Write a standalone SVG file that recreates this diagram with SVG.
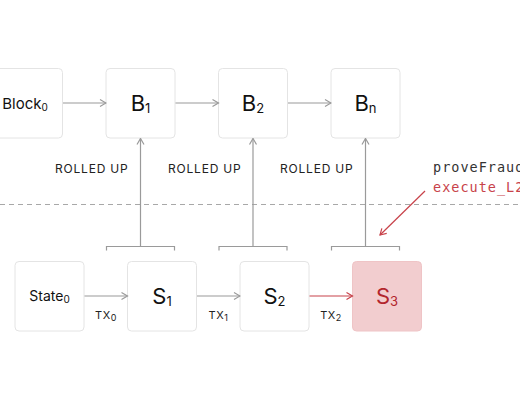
<svg xmlns="http://www.w3.org/2000/svg" width="520" height="400" viewBox="0 0 520 400">
<defs>
<style>
.box{fill:#fff;stroke:#e4e4e4;stroke-width:1}
.hot{fill:#f2cdcf;stroke:#efc4c6;stroke-width:1}
.big{font-family:Inter,"Liberation Sans",sans-serif;font-size:22px;fill:#111;text-anchor:middle}
.mid{font-family:Inter,"Liberation Sans",sans-serif;font-size:15px;fill:#111;text-anchor:middle}
.sub{font-size:13px}
.sm{font-size:10px}
.lbl{font-family:Inter,"Liberation Sans",sans-serif;font-size:12px;fill:#222;letter-spacing:0.8px}
.tx{font-family:Inter,"Liberation Sans",sans-serif;font-size:11px;fill:#222;text-anchor:middle;letter-spacing:0.5px}
.code{font-family:"DejaVu Sans Mono",monospace;font-size:13.5px;letter-spacing:1px}
.ln{stroke:#9a9a9a;stroke-width:1.2;fill:none}
.red{stroke:#c8424a;stroke-width:1.2;fill:none}
</style>
<marker id="ag" viewBox="0 0 10 10" refX="9" refY="5" markerWidth="10" markerHeight="10" markerUnits="userSpaceOnUse" orient="auto">
<path d="M3,1.5 L9,5 L3,8.5" fill="none" stroke="#9a9a9a" stroke-width="1.2"/>
</marker>
<marker id="ar" viewBox="0 0 10 10" refX="9" refY="5" markerWidth="10" markerHeight="10" markerUnits="userSpaceOnUse" orient="auto">
<path d="M3,1.5 L9,5 L3,8.5" fill="none" stroke="#c8424a" stroke-width="1.2"/>
</marker>
</defs>

<line x1="0" y1="204.5" x2="520" y2="204.5" stroke="#a8a8a8" stroke-width="1" stroke-dasharray="5 4"/>

<g id="block0"><rect class="box" x="-6.5" y="68.5" width="69" height="69.5" rx="4"/><text class="mid" x="25" y="108.5">Block<tspan class="sm" dy="2">0</tspan></text></g>
<g id="b1"><rect class="box" x="106" y="68.5" width="69" height="69.5" rx="4"/><text class="big" x="140.5" y="111">B<tspan class="sub" dy="2">1</tspan></text></g>
<g id="b2"><rect class="box" x="218.5" y="68.5" width="69" height="69.5" rx="4"/><text class="big" x="253" y="111">B<tspan class="sub" dy="2">2</tspan></text></g>
<g id="bn"><rect class="box" x="331" y="68.5" width="69" height="69.5" rx="4"/><text class="big" x="365.5" y="111">B<tspan class="sub" dy="2">n</tspan></text></g>

<g id="state0"><rect class="box" x="15" y="261.5" width="69" height="69.5" rx="4"/><text class="mid" x="49.5" y="301" style="font-size:14px">State<tspan class="sm" dy="2">0</tspan></text></g>
<g id="s1"><rect class="box" x="127.5" y="261.5" width="69" height="69.5" rx="4"/><text class="big" x="162" y="304">S<tspan class="sub" dy="2">1</tspan></text></g>
<g id="s2"><rect class="box" x="240" y="261.5" width="69" height="69.5" rx="4"/><text class="big" x="274.5" y="304">S<tspan class="sub" dy="2">2</tspan></text></g>
<g id="s3"><rect class="hot" x="352.5" y="261.5" width="69" height="69.5" rx="4"/><text class="big" x="387" y="304" style="fill:#b3262d">S<tspan class="sub" dy="2">3</tspan></text></g>

<g id="connectors">
<line class="ln" x1="63" y1="103" x2="106" y2="103" marker-end="url(#ag)"/>
<line class="ln" x1="175.5" y1="103" x2="218.5" y2="103" marker-end="url(#ag)"/>
<line class="ln" x1="288" y1="103" x2="331" y2="103" marker-end="url(#ag)"/>
<line class="ln" x1="84.5" y1="296" x2="127.5" y2="296" marker-end="url(#ag)"/>
<line class="ln" x1="197" y1="296" x2="240" y2="296" marker-end="url(#ag)"/>
<line class="red" x1="309.5" y1="296" x2="352.5" y2="296" marker-end="url(#ar)"/>
<line class="ln" x1="140.5" y1="246.5" x2="140.5" y2="138.5" marker-end="url(#ag)"/>
<line class="ln" x1="253" y1="246.5" x2="253" y2="138.5" marker-end="url(#ag)"/>
<line class="ln" x1="365.5" y1="246.5" x2="365.5" y2="138.5" marker-end="url(#ag)"/>
<path class="ln" d="M106.5,250.5 V246.5 H174.5 V250.5"/>
<path class="ln" d="M219,250.5 V246.5 H287 V250.5"/>
<path class="ln" d="M331.5,250.5 V246.5 H399.5 V250.5"/>
<line class="red" x1="425" y1="191" x2="380" y2="235" marker-end="url(#ar)"/>
</g>

<text class="lbl" x="55" y="172.5">ROLLED UP</text>
<text class="lbl" x="168" y="172.5">ROLLED UP</text>
<text class="lbl" x="280" y="172.5">ROLLED UP</text>
<text class="tx" x="106" y="319">TX<tspan style="font-size:9px" dy="1.5">0</tspan></text>
<text class="tx" x="218.5" y="319">TX<tspan style="font-size:9px" dy="1.5">1</tspan></text>
<text class="tx" x="331" y="319">TX<tspan style="font-size:9px" dy="1.5">2</tspan></text>
<text class="code" x="433" y="171.5" fill="#333">proveFraud</text>
<text class="code" x="433" y="191.5" fill="#c8424a">execute_L2</text>
</svg>
